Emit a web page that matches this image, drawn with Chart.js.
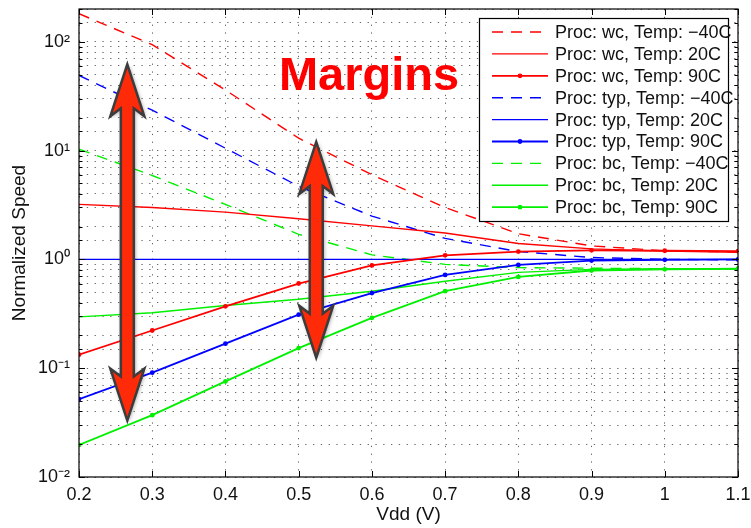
<!DOCTYPE html>
<html><head><meta charset="utf-8">
<script src="https://cdn.jsdelivr.net/npm/chart.js@4"></script>
<style>html,body{margin:0;padding:0;background:#fff}#wrap{width:751px;height:528px}</style>
</head><body><div id="wrap"><canvas id="c" width="751" height="528"></canvas></div>
<script>
// ---- data ----
const vdd = [0.2, 0.3, 0.4, 0.5, 0.6, 0.7, 0.8, 0.9, 1.0, 1.1];
const wcM40  = [181, 94, 36, 13, 6.0, 3.0, 1.72, 1.33, 1.2, 1.17];
const wc20   = [3.2, 3.0, 2.72, 2.36, 2.03, 1.75, 1.40, 1.25, 1.19, 1.16];
const wc90   = [0.133, 0.222, 0.37, 0.60, 0.88, 1.09, 1.18, 1.21, 1.20, 1.19];
const typM40 = [49, 23.5, 10.5, 4.7, 2.5, 1.56, 1.18, 1.04, 1.0, 0.99];
const typ20  = [1, 1, 1, 1, 1, 1, 1, 1, 1, 1];
const typ90  = [0.052, 0.091, 0.168, 0.31, 0.49, 0.72, 0.89, 0.975, 0.99, 1.0];
const bcM40  = [10.3, 5.9, 3.2, 1.7, 1.1, 0.9, 0.84, 0.83, 0.82, 0.82];
const bc20   = [0.296, 0.323, 0.377, 0.43, 0.51, 0.63, 0.76, 0.81, 0.82, 0.82];
const bc90   = [0.0197, 0.037, 0.0756, 0.153, 0.29, 0.51, 0.69, 0.79, 0.81, 0.82];
const seriesLabels = [
  'Proc: wc, Temp: \u221240C', 'Proc: wc, Temp: 20C', 'Proc: wc, Temp: 90C',
  'Proc: typ, Temp: \u221240C', 'Proc: typ, Temp: 20C', 'Proc: typ, Temp: 90C',
  'Proc: bc, Temp: \u221240C', 'Proc: bc, Temp: 20C', 'Proc: bc, Temp: 90C'
];
const xTickValues = [0.2, 0.3, 0.4, 0.5, 0.6, 0.7, 0.8, 0.9, 1.0, 1.1];
const yDecades = [0.01, 0.1, 1, 10, 100];
const xTitle = 'Vdd (V)';
const yTitle = 'Normalized Speed';
const noteText = 'Margins';
// annotation arrows (data units): x, top value, bottom value
const arrowX = [0.266, 0.524];
const arrowTop = [62, 12];
const arrowBottom = [0.033, 0.125];
const noteX = 0.473, noteY = 36;

const FONT = "'Liberation Sans', Arial, Helvetica, sans-serif";
const RED = '#ff0000', BLUE = '#0000ff', GREEN = '#00f000';
const DASH = [11, 8];

const allSeries = [wcM40, wc20, wc90, typM40, typ20, typ90, bcM40, bc20, bc90];
const colors = [RED, RED, RED, BLUE, BLUE, BLUE, GREEN, GREEN, GREEN];
const datasets = allSeries.map((s, i) => {
  const kind = i % 3; // 0 dashed, 1 solid, 2 solid with markers
  return {
    label: seriesLabels[i],
    data: s.map((v, j) => ({x: vdd[j], y: v})),
    borderColor: colors[i],
    backgroundColor: colors[i],
    borderWidth: kind === 2 ? 1.8 : 1.4,
    borderDash: kind === 0 ? DASH : [],
    pointRadius: kind === 2 ? 2.4 : 0,
    pointBorderWidth: 0,
    pointBackgroundColor: colors[i],
    tension: 0,
    fill: false
  };
});

const supMap = {'-':'\u207B','0':'\u2070','1':'\u00B9','2':'\u00B2','3':'\u00B3','4':'\u2074','5':'\u2075','6':'\u2076','7':'\u2077','8':'\u2078','9':'\u2079'};
function isDecade(v) { const l = Math.log10(v); return Math.abs(l - Math.round(l)) < 1e-9; }
function decadeLabel(v) {
  const e = String(Math.round(Math.log10(v)));
  return '10' + e.split('').map(c => supMap[c]).join('');
}

function drawArrow(ctx, x, yT, yB) {
  const sw = 6.5, hw = 17, hl = 52;
  ctx.save();
  ctx.beginPath();
  ctx.moveTo(x, yT);
  ctx.lineTo(x + hw, yT + hl);
  ctx.lineTo(x + sw, yT + hl - 8);
  ctx.lineTo(x + sw, yB - hl + 8);
  ctx.lineTo(x + hw, yB - hl);
  ctx.lineTo(x, yB);
  ctx.lineTo(x - hw, yB - hl);
  ctx.lineTo(x - sw, yB - hl + 8);
  ctx.lineTo(x - sw, yT + hl - 8);
  ctx.lineTo(x - hw, yT + hl);
  ctx.closePath();
  ctx.shadowColor = 'rgba(0,0,0,0.45)';
  ctx.shadowBlur = 4;
  ctx.shadowOffsetX = 1; ctx.shadowOffsetY = 1;
  ctx.fillStyle = '#ff2a08';
  ctx.fill();
  ctx.shadowColor = 'transparent';
  ctx.lineJoin = 'miter';
  ctx.strokeStyle = '#3c3c3c';
  ctx.lineWidth = 2.5;
  ctx.stroke();
  ctx.restore();
}

const extras = {
  id: 'extras',
  afterDatasetsDraw(chart) {
    const ctx = chart.ctx, a = chart.chartArea;
    const xs = chart.scales.x, ys = chart.scales.y;
    ctx.save();
    // box
    ctx.strokeStyle = '#000'; ctx.lineWidth = 1.2; ctx.setLineDash([]);
    ctx.strokeRect(a.left, a.top, a.right - a.left, a.bottom - a.top);
    // inward ticks
    ctx.lineWidth = 1;
    ctx.beginPath();
    xTickValues.forEach(v => {
      const px = Math.round(xs.getPixelForValue(v)) + 0.5;
      ctx.moveTo(px, a.bottom); ctx.lineTo(px, a.bottom - 6);
      ctx.moveTo(px, a.top); ctx.lineTo(px, a.top + 6);
    });
    ys.ticks.forEach(t => {
      const py = Math.round(ys.getPixelForValue(t.value)) + 0.5;
      const len = isDecade(t.value) ? 6 : 3.5;
      ctx.moveTo(a.left, py); ctx.lineTo(a.left + len, py);
      ctx.moveTo(a.right, py); ctx.lineTo(a.right - len, py);
    });
    ctx.stroke();
    // arrows
    arrowX.forEach((xv, i) => {
      drawArrow(ctx, xs.getPixelForValue(xv), ys.getPixelForValue(arrowTop[i]), ys.getPixelForValue(arrowBottom[i]));
    });
    // note text
    ctx.fillStyle = '#ff0000';
    ctx.font = 'bold 47px ' + FONT;
    ctx.textBaseline = 'alphabetic'; ctx.textAlign = 'left';
    ctx.fillText(noteText, xs.getPixelForValue(noteX), ys.getPixelForValue(noteY));
    // legend
    const lx = 479, ly = 18, lw = 249, lh = 203;
    ctx.fillStyle = '#fff';
    ctx.fillRect(lx, ly, lw, lh);
    ctx.strokeStyle = '#000'; ctx.lineWidth = 1.2;
    ctx.strokeRect(lx + 0.5, ly + 0.5, lw, lh);
    ctx.font = '18px ' + FONT;
    ctx.textBaseline = 'middle';
    chart.data.datasets.forEach((ds, i) => {
      const cy = ly + 14 + i * 21.9;
      ctx.strokeStyle = ds.borderColor;
      ctx.lineWidth = ds.borderWidth;
      ctx.setLineDash(ds.borderDash || []);
      ctx.beginPath(); ctx.moveTo(492, cy); ctx.lineTo(548, cy); ctx.stroke();
      ctx.setLineDash([]);
      if (ds.pointRadius > 0) {
        ctx.fillStyle = ds.borderColor;
        ctx.beginPath(); ctx.arc(520, cy, ds.pointRadius, 0, Math.PI * 2); ctx.fill();
      }
      ctx.fillStyle = '#111';
      ctx.fillText(ds.label, 555, cy + 1);
    });
    ctx.restore();
  }
};

new Chart(document.getElementById('c'), {
  type: 'line',
  data: { datasets },
  plugins: [extras],
  options: {
    responsive: false,
    devicePixelRatio: 1,
    animation: false,
    layout: { padding: { top: 9, right: 13, left: 0, bottom: 0 } },
    plugins: { legend: { display: false }, tooltip: { enabled: false } },
    scales: {
      x: {
        type: 'linear', min: 0.2, max: 1.1,
        afterBuildTicks(scale) { scale.ticks = xTickValues.map(v => ({value: v})); },
        afterFit(scale) { scale.height = 51; scale.paddingLeft = 0; scale.paddingRight = 0; },
        ticks: {
          autoSkip: false, maxRotation: 0, padding: 7,
          color: '#111', font: { family: FONT, size: 18 },
          callback: v => String(Number(v.toFixed(1)))
        },
        grid: { color: 'rgba(0,0,0,0.6)', lineWidth: 1, drawTicks: false },
        border: { display: false, dash: [1.3, 6.5] },
        title: { display: true, text: xTitle, color: '#111', font: { family: FONT, size: 19 }, padding: { top: 0, bottom: 2 } }
      },
      y: {
        type: 'logarithmic', min: 0.01, max: 200,
        afterFit(scale) { scale.width = 79; scale.paddingTop = 0; scale.paddingBottom = 0; },
        ticks: {
          autoSkip: false, padding: 9,
          color: '#111', font: { family: FONT, size: 18 },
          callback: v => (isDecade(v) ? decadeLabel(v) : '')
        },
        grid: { color: 'rgba(0,0,0,0.6)', lineWidth: 1, drawTicks: false },
        border: { display: false, dash: [1.3, 6.5] },
        title: { display: true, text: yTitle, color: '#111', font: { family: FONT, size: 19 }, padding: { top: 8, bottom: 0 } }
      }
    }
  }
});
</script>
</body></html>
